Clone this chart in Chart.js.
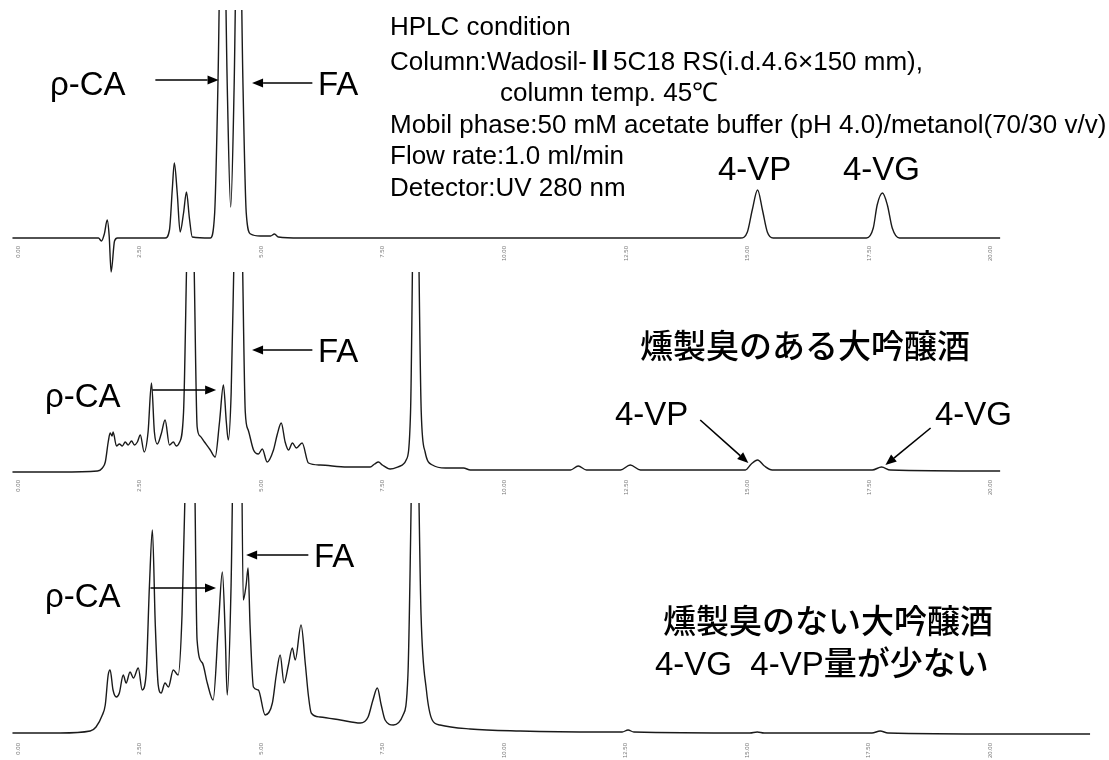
<!DOCTYPE html>
<html>
<head>
<meta charset="utf-8">
<script src="https://cdn.jsdelivr.net/npm/chart.js@4"></script>
<style>
  body { margin: 0; background: #fff; }
  #wrap { position: relative; width: 1109px; height: 760px; overflow: hidden;
          font-family: "Liberation Sans", Arial, sans-serif; color: #000; }
  canvas { position: absolute; left: 0; }
  .lbl { position: absolute; white-space: nowrap; line-height: 1; font-size: 33px; z-index: 2; }
  .jp { font-family: "Noto Sans CJK JP", sans-serif; font-weight: 500; font-size: 33px; }
  .lat { font-family: "Liberation Sans", Arial, sans-serif; font-weight: 400; }
  #cond { position: absolute; left: 390px; top: 11px; font-size: 26px; line-height: 31.5px;
          white-space: nowrap; z-index: 2; }
</style>
</head>
<body>
<div id="wrap">
  <canvas id="panelStd" width="1109" height="280" style="top:0px"></canvas>
  <canvas id="panelSmoky" width="1109" height="250" style="top:262px"></canvas>
  <canvas id="panelPlain" width="1109" height="267" style="top:493px"></canvas>

  <div id="cond">
    HPLC condition<br>
    Column:Wadosil-<span style="font-family:'Noto Sans CJK JP';font-weight:700">Ⅱ</span>5C18 RS(i.d.4.6×150 mm),<br>
    <span style="padding-left:110px">column temp. 45℃</span><br>
    Mobil phase:50 mM acetate buffer (pH 4.0)/metanol(70/30 v/v)<br>
    Flow rate:1.0 ml/min<br>
    Detector:UV 280 nm
  </div>

  <!-- top panel labels -->
  <div class="lbl" style="left:50px;top:67px">ρ-CA</div>
  <div class="lbl" style="left:318px;top:67px">FA</div>
  <div class="lbl" style="left:718px;top:152px">4-VP</div>
  <div class="lbl" style="left:843px;top:152px">4-VG</div>

  <!-- middle panel labels -->
  <div class="lbl jp" style="left:640px;top:328px">燻製臭のある大吟醸酒</div>
  <div class="lbl" style="left:318px;top:334px">FA</div>
  <div class="lbl" style="left:45px;top:379px">ρ-CA</div>
  <div class="lbl" style="left:615px;top:397px">4-VP</div>
  <div class="lbl" style="left:935px;top:397px">4-VG</div>

  <!-- bottom panel labels -->
  <div class="lbl" style="left:314px;top:539px">FA</div>
  <div class="lbl" style="left:45px;top:579px">ρ-CA</div>
  <div class="lbl jp" style="left:663px;top:603px">燻製臭のない大吟醸酒</div>
  <div class="lbl jp" style="left:655px;top:645px"><span class="lat">4-VG&nbsp;&nbsp;4-VP</span>量が少ない</div>
</div>

<script>
// --- DATA (retention time in min, detector response in arbitrary units) ---
const TICK_VALUES = [0, 2.5, 5, 7.5, 10, 12.5, 15, 17.5, 20];

// standard mix
const TIME_STD = [
  -0.12, 0.86, 1.65, 1.71, 1.77, 1.83, 1.87, 1.91, 1.98, 2.04,
  3.02, 3.11, 3.17, 3.21, 3.27, 3.33, 3.40, 3.46, 3.52, 3.58,
  3.95, 4.04, 4.11, 4.20, 4.30, 4.37, 4.44, 4.53, 4.62, 4.69, 4.78, 4.98, 5.19, 5.27, 5.35, 5.80,
  14.86, 15.00, 15.10, 15.21, 15.31, 15.41, 15.53,
  17.45, 17.59, 17.67, 17.78, 17.88, 17.98, 18.13, 20.2
];
const SIGNAL_STD = [
  0, 0, 0, -3, 4, 18, 2, -34, -3, 0,
  0, 8, 50, 75, 45, 6, 25, 46, 20, 1,
  0, 25, 160, 420, 150, 31, 150, 420, 160, 25, 4, 2, 2, 4, 1, 0,
  0, 6, 28, 48, 28, 6, 0,
  0, 10, 33, 45, 33, 10, 0, 0
];

// daiginjo sake with smoky odour
const TIME_SMOKY = [
  -0.12, 0.86, 1.63, 1.73, 1.79, 1.85, 1.89, 1.93, 1.95, 2.02, 2.08, 2.14, 2.20, 2.26, 2.33, 2.39, 2.45,
  2.51, 2.59, 2.67, 2.74, 2.80, 2.86, 2.94, 3.02, 3.11, 3.19, 3.25, 3.31,
  3.40, 3.46, 3.54, 3.62, 3.68, 3.74, 3.83, 3.95, 4.05, 4.14, 4.22, 4.28, 4.32,
  4.38, 4.44, 4.53, 4.61, 4.67, 4.73, 4.84, 4.94, 5.02, 5.12, 5.25, 5.33, 5.41, 5.49,
  5.56, 5.64, 5.72, 5.84, 5.97, 6.21, 6.77, 7.24, 7.33, 7.41, 7.49, 7.65, 7.86, 7.98,
  8.07, 8.17, 8.29, 8.37, 8.52, 8.79, 9.16, 9.30, 11.36, 11.52, 11.69, 12.39, 12.59, 12.80,
  14.96, 15.08, 15.21, 15.35, 15.51, 17.57, 17.76, 17.94, 20.2
];
const SIGNAL_SMOKY = [
  0, 0, 1, 4, 10, 30, 39, 36, 40, 26, 28, 26, 30, 27, 31, 27, 30,
  37, 20, 40, 89, 40, 28, 38, 52, 27, 30, 26, 29,
  60, 200, 420, 200, 45, 36, 30, 22, 15, 50, 87, 50, 32,
  80, 220, 420, 220, 60, 42, 22, 18, 23, 10, 22, 38, 49, 30,
  22, 29, 24, 29, 9, 7, 5, 5, 8, 10, 7, 3, 6, 12,
  60, 420, 60, 20, 7, 4, 4, 2, 2, 6, 2, 2, 7, 2,
  2, 8, 12, 6, 2, 2, 5, 2, 1
];

// daiginjo sake without smoky odour
const TIME_PLAIN = [
  -0.12, 0.86, 1.48, 1.60, 1.73, 1.79, 1.85, 1.89, 1.95, 2.02, 2.08, 2.16, 2.22, 2.30, 2.37, 2.47,
  2.55, 2.63, 2.70, 2.76, 2.82, 2.88, 2.94, 3.02, 3.09, 3.19, 3.29,
  3.37, 3.46, 3.54, 3.62, 3.68, 3.79, 3.89, 4.01, 4.12, 4.20, 4.26, 4.30,
  4.38, 4.47, 4.57, 4.63, 4.69, 4.73, 4.77, 4.84, 4.94, 5.08, 5.23, 5.31, 5.39, 5.47,
  5.56, 5.64, 5.70, 5.82, 5.91, 5.97, 6.03, 6.21, 6.63, 7.04, 7.20, 7.30, 7.39, 7.47, 7.55, 7.72,
  7.92, 8.02, 8.17, 8.29, 8.40, 8.52, 8.68, 9.30, 10.33, 11.98, 12.43, 12.55, 12.67,
  15.06, 15.21, 15.35, 17.57, 17.74, 17.90, 20.21, 22.06
];
const SIGNAL_PLAIN = [
  2, 2, 4, 8, 20, 30, 60, 65, 45, 38, 42, 60, 52, 63, 57, 67,
  45, 60, 150, 205, 110, 50, 42, 52, 48, 65, 60,
  120, 300, 420, 300, 95, 72, 52, 35, 110, 163, 100, 40,
  150, 420, 420, 135, 150, 167, 110, 48, 45, 20, 32, 60, 80, 52,
  70, 87, 75, 110, 70, 40, 22, 18, 15, 12, 18, 35, 47, 30, 15, 10,
  20, 60, 420, 120, 45, 15, 10, 6, 4, 3, 3, 5, 3,
  2, 3, 2, 2, 4, 2, 1, 1
];

// --- arrows drawn in data coordinates ---
const arrowPlugin = {
  id: 'arrows',
  afterDatasetsDraw(chart, args, opts) {
    const { ctx, scales: { x, y } } = chart;
    ctx.save();
    ctx.strokeStyle = '#000';
    ctx.fillStyle = '#000';
    ctx.lineWidth = 1.6;
    (opts.list || []).forEach(a => {
      const x1 = x.getPixelForValue(a.from[0]), y1 = y.getPixelForValue(a.from[1]);
      const x2 = x.getPixelForValue(a.to[0]), y2 = y.getPixelForValue(a.to[1]);
      const ang = Math.atan2(y2 - y1, x2 - x1);
      const head = 11, w = 4.5;
      const bx = x2 - head * Math.cos(ang), by = y2 - head * Math.sin(ang);
      ctx.beginPath();
      ctx.moveTo(x1, y1);
      ctx.lineTo(bx, by);
      ctx.stroke();
      ctx.beginPath();
      ctx.moveTo(x2, y2);
      ctx.lineTo(bx - w * Math.sin(ang), by + w * Math.cos(ang));
      ctx.lineTo(bx + w * Math.sin(ang), by - w * Math.cos(ang));
      ctx.closePath();
      ctx.fill();
    });
    ctx.restore();
  }
};

function makePanel(id, times, signal, opt) {
  const ctx = document.getElementById(id).getContext('2d');
  return new Chart(ctx, {
    type: 'line',
    data: {
      datasets: [{
        data: times.map((t, i) => ({ x: t, y: signal[i] })),
        borderColor: '#1a1a1a',
        borderWidth: 1.4,
        pointRadius: 0,
        fill: false,
        tension: 0.4,
        cubicInterpolationMode: 'monotone',
        clip: { left: 0, top: 0, right: 0, bottom: 40 }
      }]
    },
    options: {
      responsive: false,
      animation: false,
      devicePixelRatio: 1,
      layout: { autoPadding: false, padding: opt.padding },
      plugins: {
        legend: { display: false },
        tooltip: { enabled: false },
        arrows: { list: opt.arrows }
      },
      scales: {
        x: {
          type: 'linear',
          min: -0.15,
          max: opt.xMax,
          grid: { display: false, drawTicks: false },
          border: { display: false },
          afterBuildTicks: axis => { axis.ticks = TICK_VALUES.map(v => ({ value: v })); },
          afterFit: axis => { axis.height = 20; },
          ticks: {
            autoSkip: false,
            minRotation: 90,
            maxRotation: 90,
            padding: 4,
            color: '#7a7a7a',
            font: { size: 6 },
            callback: v => v.toFixed(2)
          }
        },
        y: {
          display: false,
          min: -4,
          max: opt.yMax
        }
      }
    },
    plugins: [arrowPlugin]
  });
}

makePanel('panelStd', TIME_STD, SIGNAL_STD, {
  xMax: 20.3, yMax: 228,
  padding: { top: 10, bottom: 18, left: 11, right: 104 },
  arrows: [
    { from: [2.82, 158], to: [4.12, 158] },
    { from: [6.05, 155], to: [4.81, 155] }
  ]
});

makePanel('panelSmoky', TIME_SMOKY, SIGNAL_SMOKY, {
  xMax: 20.3, yMax: 200,
  padding: { top: 10, bottom: 16, left: 11, right: 104 },
  arrows: [
    { from: [6.05, 122], to: [4.81, 122] },
    { from: [2.76, 82], to: [4.07, 82] },
    { from: [14.03, 52], to: [15.02, 9] },
    { from: [18.77, 44], to: [17.84, 7] }
  ]
});

makePanel('panelPlain', TIME_PLAIN, SIGNAL_PLAIN, {
  xMax: 22.1, yMax: 232,
  padding: { top: 10, bottom: 1, left: 11, right: 17 },
  arrows: [
    { from: [5.97, 180], to: [4.69, 180] },
    { from: [2.72, 147], to: [4.07, 147] }
  ]
});
</script>
</body>
</html>
